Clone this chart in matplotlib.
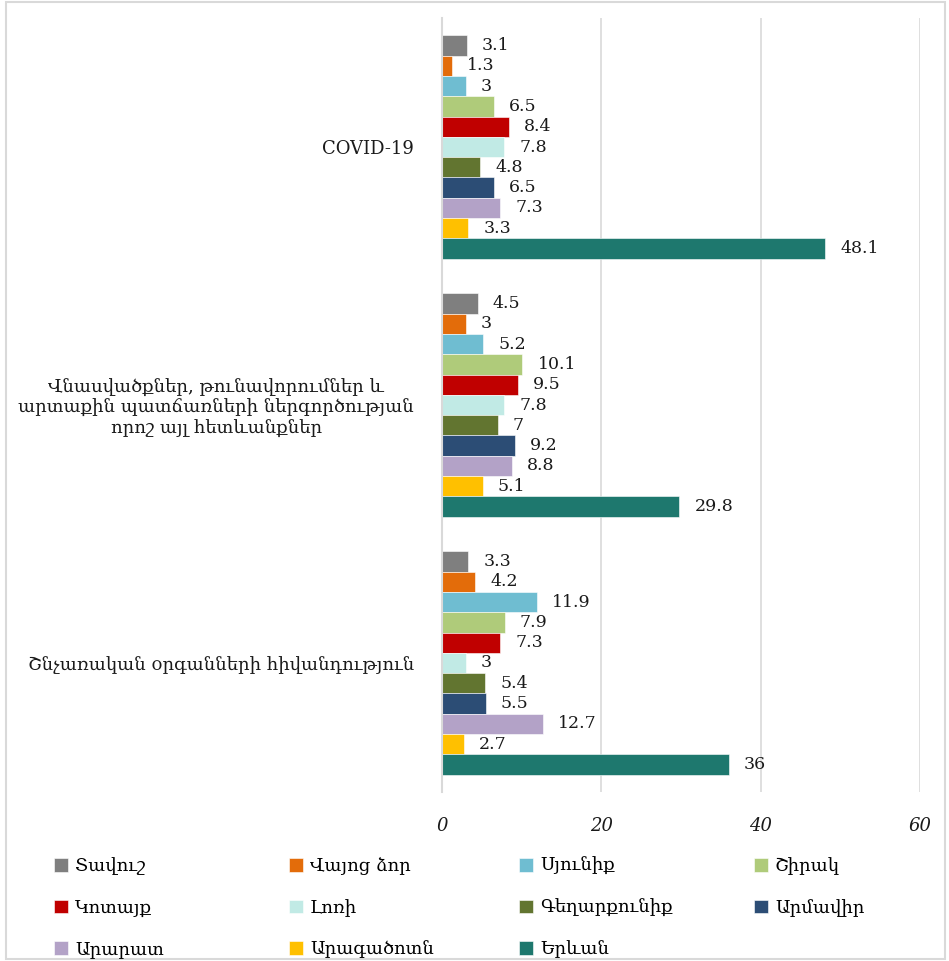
import matplotlib
matplotlib.use("Agg")
import matplotlib.pyplot as plt
import numpy as np
from matplotlib.patches import Rectangle

plt.rcParams['font.family'] = ['DejaVu Serif']

categories = [
    "COVID-19",
    "Վնասվածքներ, թունավորումներ և\nարտաքին պատճառների ներգործության\nորոշ այլ հետևանքներ",
    "Շնչառական օրգանների հիվանդություն",
]
regions = ["Տավուշ", "Վայոց ձոր", "Սյունիք", "Շիրակ", "Կոտայք", "Լոռի",
           "Գեղարքունիք", "Արմավիր", "Արարատ", "Արագածոտն", "Երևան"]
colors = ["#7F7F7F", "#E36C0A", "#6FBDD1", "#AFCB7A", "#C00000", "#C1EAE5",
          "#627530", "#2C4D75", "#B3A2C7", "#FFC000", "#1E786E"]
values = {
    "Տավուշ":      [3.1, 4.5, 3.3],
    "Վայոց ձոր":   [1.3, 3, 4.2],
    "Սյունիք":     [3, 5.2, 11.9],
    "Շիրակ":       [6.5, 10.1, 7.9],
    "Կոտայք":      [8.4, 9.5, 7.3],
    "Լոռի":        [7.8, 7.8, 3],
    "Գեղարքունիք": [4.8, 7, 5.4],
    "Արմավիր":     [6.5, 9.2, 5.5],
    "Արարատ":      [7.3, 8.8, 12.7],
    "Արագածոտն":   [3.3, 5.1, 2.7],
    "Երևան":       [48.1, 29.8, 36],
}
xticks = [0, 20, 40, 60]

fig = plt.figure(figsize=(9.49, 9.61), dpi=100)
ax = fig.add_axes([442/949, 1-792/961, (920-442)/949, (792-18)/961])

n = len(regions)
group_h = 0.865
bh = group_h / n
y0 = np.arange(len(categories))
for i, (r, c) in enumerate(zip(regions, colors)):
    ys = y0 - group_h/2 + bh*(i + 0.5)
    bars = ax.barh(ys, values[r], height=bh, color=c, label=r,
                   edgecolor="white", linewidth=0.4)
    for b, v in zip(bars, values[r]):
        ax.annotate(f"{v:g}", (v, b.get_y() + b.get_height()/2),
                    xytext=(15, 0), textcoords="offset pixels",
                    va="center", ha="left", fontsize=12.5, color="#1a1a1a")

ax.set_ylim(len(categories) - 0.5, -0.5)
ax.set_xlim(0, 60)
ax.set_xticks(xticks)
ax.set_xticklabels([str(t) for t in xticks], fontstyle="italic", fontsize=13)
ax.set_yticks(y0)
ax.set_yticklabels(categories, fontsize=13, multialignment="center")
ax.tick_params(axis="both", length=0, colors="#1a1a1a")
ax.tick_params(axis="x", pad=18)
ax.tick_params(axis="y", pad=20)
ax.grid(axis="x", color="#D9D9D9", linewidth=1.2)
ax.set_axisbelow(True)
for s in ["top", "right", "bottom"]:
    ax.spines[s].set_visible(False)
ax.spines["left"].set_color("#D9D9D9")
ax.spines["left"].set_linewidth(1.5)

# Legend: four columns, entries run left to right across rows
handles, labels = ax.get_legend_handles_labels()
ncol = 4
col_x = [47, 282, 512, 747]
for col in range(ncol):
    idx = list(range(col, n, ncol))
    fig.legend([handles[k] for k in idx], [labels[k] for k in idx],
               loc="upper left", bbox_to_anchor=(col_x[col]/949, 1-850/961),
               frameon=False, fontsize=13, handlelength=0.75, handleheight=0.75,
               handletextpad=0.4, labelspacing=1.3, borderaxespad=0)

fig.patches.append(Rectangle((0.006, 0.002), 0.99, 0.996, transform=fig.transFigure,
                             fill=False, edgecolor="#D9D9D9", linewidth=1.5))

fig.savefig("out.png", dpi=100)
